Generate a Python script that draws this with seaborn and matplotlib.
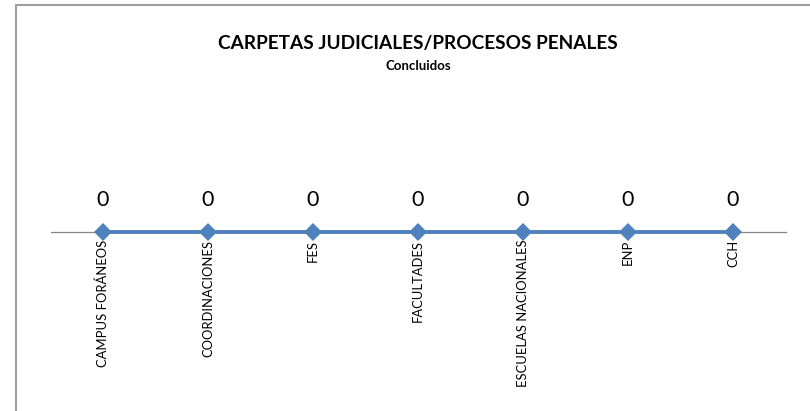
import matplotlib
matplotlib.use("Agg")
import matplotlib.pyplot as plt
import seaborn as sns
import pandas as pd
from matplotlib.lines import Line2D

categories = ["CAMPUS FORÁNEOS", "COORDINACIONES", "FES", "FACULTADES",
              "ESCUELAS NACIONALES", "ENP", "CCH"]
values = [0, 0, 0, 0, 0, 0, 0]
title = "CARPETAS JUDICIALES/PROCESOS PENALES"
subtitle = "Concluidos"

sns.set_theme(style="white")
plt.rcParams['font.family'] = ['Lato', 'DejaVu Sans']

W, H = 810, 411
fig = plt.figure(figsize=(W / 100, H / 100), dpi=100)
fig.patch.set_facecolor("white")

# axes: x from 50.5 to 785.5 px, 0 at y=232
x0, x1 = 50.5, 785.5
ytop, ybot = 90, 374
ax = fig.add_axes([x0 / W, 1 - ybot / H, (x1 - x0) / W, (ybot - ytop) / H])

df = pd.DataFrame({"cat": categories, "val": values})
df["pos"] = range(len(df))
sns.lineplot(data=df, x="pos", y="val", ax=ax, color="#4F81BD", lw=2.8,
             marker="D", markersize=8.8, markeredgewidth=0, zorder=3)
ax.set_xlim(-0.5, len(df) - 0.5)
ax.set_ylim(-1, 1)
for k, s in ax.spines.items():
    s.set_visible(k == "bottom")
ax.spines["bottom"].set_position(("data", 0))
ax.spines["bottom"].set_color("#868686")
ax.spines["bottom"].set_linewidth(0.9)
ax.spines["bottom"].set_zorder(1)
ax.patch.set_alpha(0)

ax.set_xticks(df["pos"])
ax.set_xticklabels(df["cat"], rotation=90, fontsize=9.4, va="top", ha="center")
ax.tick_params(axis="x", length=0, pad=5.5, colors="black")
ax.set_yticks([])
ax.set_xlabel("")
ax.set_ylabel("")

for p, v in zip(df["pos"], df["val"]):
    ax.annotate(f"{v}", (p, v), xytext=(0, 23), textcoords="offset points",
                ha="center", va="center", fontsize=15.5, color="black")

fig.text(418 / W, 1 - 43 / H, title, ha="center", va="center",
         fontsize=13.7, fontweight="bold", color="black")
fig.text(418 / W, 1 - 66 / H, subtitle, ha="center", va="center",
         fontsize=9.5, fontweight="bold", color="black")

# outer frame (left and top edges visible)
fig.add_artist(Line2D([16 / W, 16 / W], [0, 1 - 5 / H], color="#A0A0A0", lw=1.5,
                      transform=fig.transFigure))
fig.add_artist(Line2D([16 / W, 1], [1 - 5 / H, 1 - 5 / H], color="#A0A0A0", lw=1.5,
                      transform=fig.transFigure))

fig.savefig("out.png", dpi=100)
